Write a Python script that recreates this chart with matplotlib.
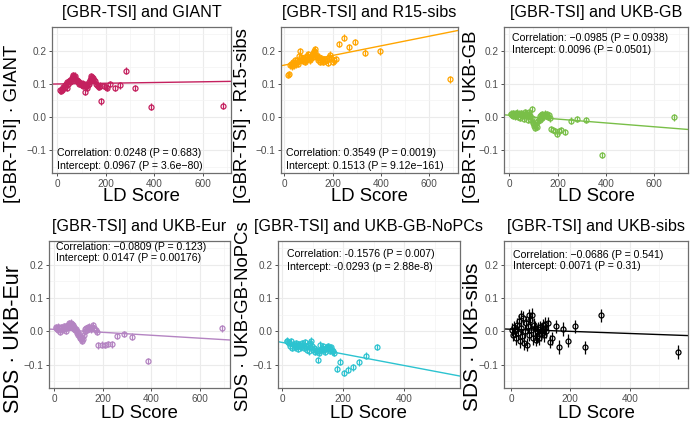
import numpy as np
import matplotlib
matplotlib.use("Agg")
import matplotlib.pyplot as plt
from matplotlib.ticker import FixedLocator, FuncFormatter

plt.rcParams['font.family'] = ['Liberation Sans', 'DejaVu Sans']

# ---- data ----
titles = ["[GBR-TSI] and GIANT", "[GBR-TSI] and R15-sibs", "[GBR-TSI] and UKB-GB",
          "[GBR-TSI] and UKB-Eur", "[GBR-TSI] and UKB-GB-NoPCs", "[GBR-TSI] and UKB-sibs"]
ylabels = ["[GBR-TSI] \u00b7 GIANT", "[GBR-TSI] \u00b7 R15-sibs", "[GBR-TSI] \u00b7 UKB-GB",
           "SDS \u00b7 UKB-Eur", "SDS \u00b7 UKB-GB-NoPCs", "SDS \u00b7 UKB-sibs"]
ylabel_size = [13.3, 13.3, 13.3, 15.5, 13.3, 15.0]
colors = ["#C4205E", "#FFA500", "#79BF48", "#B484C2", "#2CC3D0", "#000000"]
stats = [("Correlation: 0.0248 (P = 0.683)", "Intercept: 0.0967 (P = 3.6e\u221280)"),
         ("Correlation: 0.3549 (P = 0.0019)", "Intercept: 0.1513 (P = 9.12e\u2212161)"),
         ("Correlation: \u22120.0985 (P = 0.0938)", "Intercept: 0.0096 (P = 0.0501)"),
         ("Correlation: \u22120.0809 (P = 0.123)", "Intercept: 0.0147 (P = 0.00176)"),
         ("Correlation: -0.1576 (P = 0.007)", "Intercept: -0.0293 (p = 2.88e-8)"),
         ("Correlation: \u22120.0686 (P = 0.541)", "Intercept: 0.0071 (P = 0.31)")]

giant_ld = [12, 15, 18, 21, 24, 27, 30, 33, 36, 39,
            42, 45, 48, 51, 54, 57, 60, 63, 66, 69,
            72, 75, 78, 81, 84, 87, 90, 93, 96, 99,
            102, 105, 108, 111, 114, 117, 120, 123, 126, 129,
            132, 135, 138, 141, 144, 147,
            151, 155, 159, 163, 167, 172, 177,
            182, 191, 199, 205, 219, 237, 257, 284, 322, 385, 683]
giant_est = [0.080, 0.078, 0.085, 0.082, 0.090, 0.086, 0.095, 0.090, 0.100, 0.087,
             0.105, 0.098, 0.108, 0.104, 0.112, 0.108, 0.118, 0.122, 0.126, 0.121,
             0.124, 0.115, 0.110, 0.112, 0.104, 0.108, 0.100, 0.103, 0.098, 0.102,
             0.096, 0.100, 0.094, 0.098, 0.075, 0.092, 0.097, 0.088, 0.095, 0.100,
             0.106, 0.112, 0.118, 0.122, 0.120, 0.116,
             0.112, 0.108, 0.100, 0.095, 0.092, 0.090, 0.094,
             0.047, 0.093, 0.090, 0.087, 0.099, 0.087, 0.095, 0.139, 0.087, 0.031, 0.034]

r15_ld = [16, 20,
          24, 27, 30, 33, 36, 39, 42, 45, 48, 51,
          54, 57, 60, 63, 66, 69, 72, 75, 78, 81,
          84, 87, 90, 93, 96, 99, 102, 105, 108, 111,
          114, 117, 120, 123, 126, 129, 132, 135, 138, 141,
          144, 147, 150,
          154, 158, 162, 166, 170, 175, 180, 185, 190, 195, 200, 207, 214,
          228, 246, 268, 293, 333, 396, 687]
r15_est = [0.126, 0.129,
           0.155, 0.160, 0.152, 0.158, 0.165, 0.155, 0.162, 0.170, 0.158, 0.166,
           0.172, 0.160, 0.168, 0.185, 0.198, 0.180, 0.172, 0.178, 0.168, 0.175,
           0.165, 0.180, 0.170, 0.185, 0.175, 0.190, 0.178, 0.170, 0.182, 0.176,
           0.188, 0.180, 0.192, 0.200, 0.205, 0.196, 0.188, 0.180, 0.172, 0.176,
           0.182, 0.170, 0.165,
           0.178, 0.172, 0.166, 0.175, 0.168, 0.172, 0.162, 0.180, 0.188, 0.178, 0.165, 0.170, 0.173,
           0.220, 0.239, 0.210, 0.226, 0.194, 0.198, 0.113]

ukbgb_ld = [5, 8, 11, 14, 17, 20, 23, 26, 29, 32,
            35, 38, 41, 44, 47, 50, 53, 56, 59, 62,
            65, 68, 71, 74, 77, 80, 83, 86, 89, 92,
            95, 98, 101, 104, 107, 110, 113, 116, 119, 122,
            125, 128, 131, 134, 137, 140,
            144, 148, 152, 156, 160, 165, 170,
            174, 182, 190, 199, 207, 215, 231,
            257, 282, 318, 383, 682]
ukbgb_est = [0.008, 0.010, 0.006, 0.012, 0.004, 0.009, 0.002, 0.011, 0.005, 0.013,
             0.000, 0.008, 0.010, -0.003, 0.006, 0.012, 0.003, 0.009, -0.005, 0.007,
             0.014, 0.002, 0.010, 0.005, -0.008, 0.008, 0.015, 0.004, -0.010, -0.002,
             0.024, -0.018, -0.028, -0.022, -0.034, -0.026, -0.015, -0.030, -0.012, -0.005,
             0.002, -0.008, 0.005, -0.003, 0.008, 0.002,
             0.006, 0.010, 0.004, 0.008, 0.001, 0.005, -0.004,
             -0.037, -0.039, -0.042, -0.052, -0.044, -0.040, -0.046,
             -0.011, -0.006, -0.009, -0.115, -0.001]

ukbeur_ld = [5, 8, 11, 14, 17, 20, 23, 26, 29, 32,
             35, 38, 41, 44, 47, 50, 53, 56, 59, 62,
             65, 68, 71, 74, 77, 80, 83, 86, 89, 92,
             95, 98, 101, 104, 107, 110, 113, 116, 119, 122,
             125, 128, 131, 134, 137, 140,
             144, 148, 152, 156, 160, 165, 170, 176,
             181, 195, 209, 222, 236,
             257, 286, 322, 386, 689]
ukbeur_est = [0.010, 0.012, 0.008, 0.014, 0.005, 0.011, -0.001, 0.009, 0.013, 0.004,
              0.010, 0.015, 0.006, 0.012, 0.002, 0.016, 0.010, 0.020, 0.014, 0.024,
              0.018, 0.026, 0.022, 0.015, 0.019, 0.008, 0.012, 0.003, 0.007, -0.005,
              0.002, -0.012, -0.008, -0.016, -0.020, -0.024, -0.018, -0.028, -0.022, -0.012,
              0.000, 0.006, 0.010, 0.004, 0.012, 0.008,
              0.014, 0.010, 0.006, 0.012, 0.018, 0.010, 0.005, -0.001,
              -0.042, -0.040, -0.041, -0.038, -0.039,
              -0.014, -0.008, -0.016, -0.089, 0.009]

nopcs_ld = [14, 17, 20, 23, 26, 29, 32, 35, 38, 41,
            44, 47, 50, 53, 56, 59, 62, 65, 68, 71,
            74, 77, 80, 83, 86, 89, 92, 95, 98, 101,
            104, 107, 110, 113, 116, 119, 122, 125, 128, 131,
            134, 137, 140, 143, 146, 149, 152, 155, 158, 161,
            164, 167, 170,
            179, 189, 201, 215, 232, 251, 276, 311]
nopcs_est = [-0.030, -0.028, -0.033, -0.035, -0.045, -0.030, -0.050, -0.038, -0.042, -0.048,
             -0.035, -0.045, -0.040, -0.052, -0.038, -0.044, -0.048, -0.036, -0.042, -0.050,
             -0.032, -0.045, -0.055, -0.040, -0.048, -0.060, -0.035, -0.028, -0.045, -0.055,
             -0.050, -0.062, -0.055, -0.058, -0.086, -0.065, -0.060, -0.040, -0.055, -0.050,
             -0.045, -0.055, -0.062, -0.050, -0.048, -0.045, -0.052, -0.058, -0.050, -0.048,
             -0.055, -0.060, -0.065,
             -0.112, -0.091, -0.125, -0.115, -0.108, -0.093, -0.073, -0.047]

sibs_ld = [5, 8, 11, 14, 17, 20, 23, 26, 29, 32,
           35, 38, 41, 44, 47, 50, 53, 56, 59, 62,
           65, 68, 71, 74, 77, 80, 83, 86, 89, 92,
           95, 98, 101, 104, 107, 110, 113, 116, 119,
           126, 131, 139, 151, 162, 176, 193, 216, 249, 304, 564]
sibs_est = [0.005, -0.010, 0.012, 0.002, -0.020, 0.020, -0.005, 0.030, -0.030, 0.045,
            0.010, -0.015, 0.040, -0.035, 0.000, 0.025, -0.040, 0.015, 0.048, -0.010,
            0.035, 0.005, 0.050, -0.020, 0.020, 0.010, -0.025, 0.000, -0.015, 0.008,
            -0.020, 0.012, -0.008, 0.005, 0.018, -0.012, 0.010, 0.022, 0.000,
            0.024, -0.031, -0.021, 0.015, -0.047, 0.007, -0.028, 0.015, -0.048, 0.048, -0.062]

ld_all = [giant_ld, r15_ld, ukbgb_ld, ukbeur_ld, nopcs_ld, sibs_ld]
est_all = [giant_est, r15_est, ukbgb_est, ukbeur_est, nopcs_est, sibs_est]
err_half = [0.010, 0.010, 0.010, 0.010, 0.010, 0.020]

# regression lines (intercept, slope) as drawn
line_b0 = [0.0992, 0.156, 0.005, 0.0058, -0.0334, 0.0063]
line_b1 = [1.1e-5, 1.45e-4, -5.8e-5, -4.4e-5, -1.73e-4, -3.2e-5]

# where the stat texts sit (data coords)
text_x = [0, 5, 12, 7, 256, 8]
text_y = [(-0.109, -0.148), (-0.109, -0.148), (0.237, 0.202),
          (0.254, 0.220), (0.232, 0.194), (0.230, 0.195)]
text_ha = ['left', 'left', 'left', 'left', 'center', 'left']

xlims = [(-20.6, 715), (-13.7, 721.6), (-20.7, 738), (-21.8, 723.5), (-15, 582.7), (-22.6, 595.5)]
xmajor = [[0, 200, 400, 600]] * 4 + [[0, 200, 400]] * 2
ymajor = [-0.1, 0.0, 0.1, 0.2]
yminor = [-0.15, -0.05, 0.05, 0.15, 0.25]

# panel boxes in pixels (left, top, right, bottom)
boxes = [(52.3, 27.3, 230.7, 173.3), (281, 27.3, 458.3, 173.3), (504.3, 27.3, 687.7, 173.3),
         (49, 241.3, 230, 388), (277.7, 241.3, 460, 388), (504.3, 241.3, 687.7, 388)]
ylab_x = [12.5, 242.8, 471.7, 14, 243.7, 472.5]
ylab_bottom = [203.3, 203.3, 203.3, 413, 411, 411]
xlab_y = [196.7, 196.7, 196.7, 413, 413, 413]

W, H = 692, 428
fig = plt.figure(figsize=(W / 100, H / 100), dpi=100)


def fmt_y(v, pos):
    s = f"{v:.1f}"
    return s.replace("-", "\u2212")


for i in range(6):
    l, t, r, b = boxes[i]
    ax = fig.add_axes([l / W, 1 - b / H, (r - l) / W, (b - t) / H])
    col = colors[i]

    ax.set_xlim(*xlims[i])
    ax.set_ylim(-0.17, 0.27)
    ax.xaxis.set_major_locator(FixedLocator(xmajor[i]))
    ax.xaxis.set_minor_locator(FixedLocator([m + 100 for m in xmajor[i]]))
    ax.yaxis.set_major_locator(FixedLocator(ymajor))
    ax.yaxis.set_minor_locator(FixedLocator(yminor))
    ax.yaxis.set_major_formatter(FuncFormatter(fmt_y))
    ax.grid(which='major', color='#EBEBEB', lw=0.8)
    ax.grid(which='minor', color='#F3F3F3', lw=0.5)
    ax.set_axisbelow(True)
    ax.tick_params(which='major', length=2.5, width=0.6, color='#333333',
                   labelsize=7.2, labelcolor='#4D4D4D', pad=1.5)
    ax.tick_params(which='minor', length=0)
    for sp in ax.spines.values():
        sp.set_color('#6E6E6E')
        sp.set_linewidth(0.9)

    ax.axline((0, line_b0[i]), slope=line_b1[i], color=col, lw=1.0, zorder=2)
    ax.errorbar(ld_all[i], est_all[i], yerr=err_half[i], fmt='o', ms=3.6,
                mfc='none', mec=col, mew=0.9, ecolor=col, elinewidth=0.9,
                capsize=0, zorder=3)

    for k in range(2):
        ax.text(text_x[i], text_y[i][k], stats[i][k], ha=text_ha[i], va='center',
                fontsize=7.6, color='black', zorder=4)

    h = b - t
    ax.set_title(titles[i], fontsize=11.6, y=1 + 14.5 / h, va='center', pad=0)

    ax.set_xlabel("LD Score", fontsize=13.3)
    ax.xaxis.set_label_coords(0.5, (b - xlab_y[i]) / h)
    ax.xaxis.label.set_va('center')

    ax.set_ylabel(ylabels[i], fontsize=ylabel_size[i])
    ax.yaxis.label.set(rotation_mode='default', ha='center', va='bottom')
    ax.yaxis.set_label_coords((ylab_x[i] - l) / (r - l), (b - ylab_bottom[i]) / h)

fig.savefig("out.png", dpi=100)
